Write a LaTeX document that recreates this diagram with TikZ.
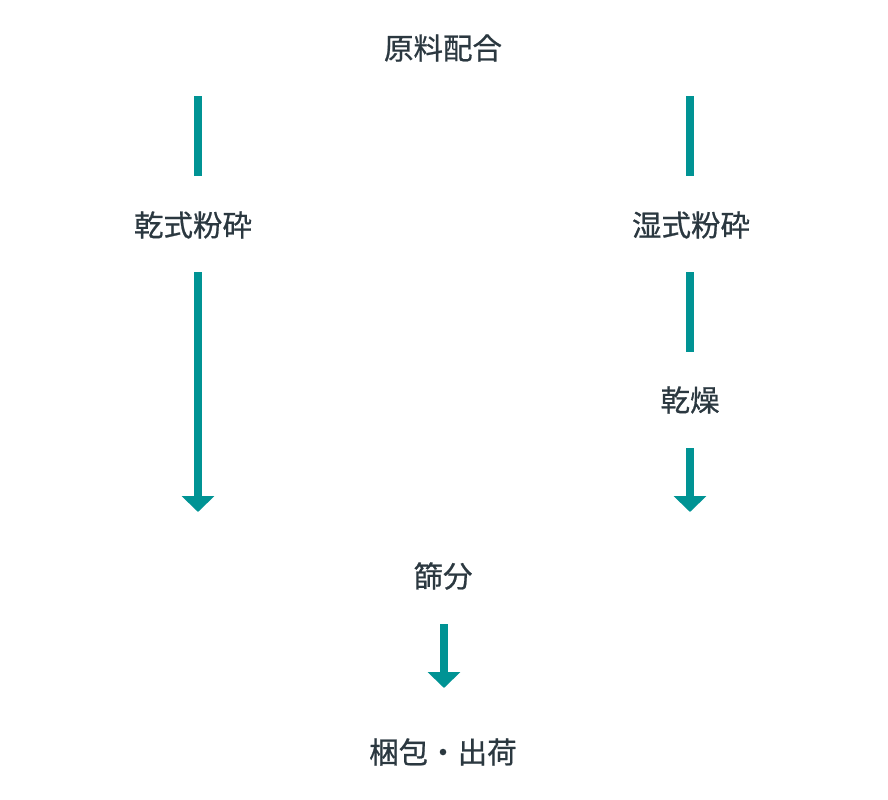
\documentclass[tikz,border=0pt]{standalone}
\usepackage{fontspec}
\setmainfont{Noto Sans CJK JP}[FakeBold=0.7]
\usetikzlibrary{arrows.meta}
\definecolor{teal}{HTML}{009394}
\definecolor{ink}{HTML}{2B3840}
\begin{document}
\begin{tikzpicture}[x=1bp,y=-1bp,
  lbl/.style={text=ink,font=\fontsize{29.5bp}{34bp}\selectfont,inner sep=0pt,anchor=center},
  seg/.style={draw=teal,line width=8bp},
  arr/.style={seg,-{Triangle[length=16bp,width=32bp]}}]
\useasboundingbox (0,0) rectangle (888,800);
\node[lbl] (mix) at (443,48) {原料配合};
\node[lbl] (dry) at (193,225) {乾式粉砕};
\node[lbl] (wet) at (691,225) {湿式粉砕};
\node[lbl] (drying) at (690,400) {乾燥};
\node[lbl] (sieve) at (443,576) {篩分};
\node[lbl] (pack) at (443,752) {梱包・出荷};
\coordinate (l1a) at (198,96); \coordinate (l1b) at (198,176);
\coordinate (r1a) at (690,96); \coordinate (r1b) at (690,176);
\coordinate (l2a) at (198,272); \coordinate (l2b) at (198,512);
\coordinate (r2a) at (690,272); \coordinate (r2b) at (690,352);
\coordinate (r3a) at (690,448); \coordinate (r3b) at (690,512);
\coordinate (c1a) at (444,624); \coordinate (c1b) at (444,688);
\draw[seg] (l1a) -- (l1b);
\draw[seg] (r1a) -- (r1b);
\draw[arr] (l2a) -- (l2b);
\draw[seg] (r2a) -- (r2b);
\draw[arr] (r3a) -- (r3b);
\draw[arr] (c1a) -- (c1b);
\end{tikzpicture}
\end{document}
